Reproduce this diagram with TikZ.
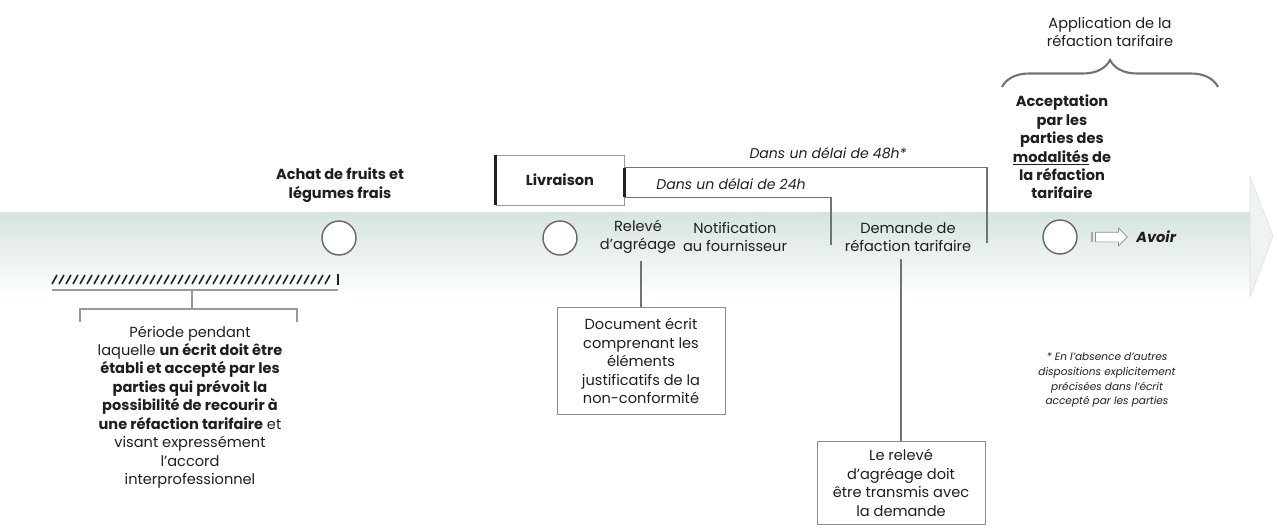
\documentclass[tikz,border=0pt]{standalone}
\usepackage{fontspec}
\setmainfont{Poppins}
\usetikzlibrary{positioning}
\usetikzlibrary{decorations.pathreplacing,shapes.arrows}
\definecolor{bandgreen}{RGB}{214,228,221}
\colorlet{ink}{black!88}
\colorlet{linegray}{black!55}
\newcommand\txtsize{\fontsize{8.3}{10.5}\selectfont}
\tikzset{
  event circle/.style={circle,draw=black!60,fill=white,thick,minimum size=6.8mm,inner sep=0},
  step label/.style={align=center,text=ink,font=\txtsize,inner sep=0},
  step bold/.style={step label,font=\txtsize\bfseries},
  event box/.style={draw=black!40,fill=white,text=ink,font=\txtsize\bfseries,minimum width=25.6mm,minimum height=10mm,inner sep=0},
  info box/.style={draw=black!45,fill=white,align=center,text=ink,font=\txtsize,minimum width=33.6mm,inner sep=0},
  delay label/.style={text=ink,font=\fontsize{8}{10}\selectfont\itshape,inner sep=0},
  note/.style={align=center,text=ink,font=\fontsize{6}{8.5}\selectfont\itshape,inner sep=0},
  connect/.style={draw=linegray,line width=0.6pt},
  bracket/.style={draw=black!40,line width=1.4pt},
  hatch/.style={draw=ink,line width=0.9pt},
}

\begin{document}
\begin{tikzpicture}[x=0.2mm,y=-0.2mm]
    \useasboundingbox (0,0) rectangle (1277,527);

    % ------- time line -------
    \shade[top color=bandgreen, middle color=bandgreen!80, bottom color=white] (0,212) rectangle (1250,296);
    \filldraw[fill=bandgreen!40, draw=black!12] (1250,177) -- (1273,236) -- (1250,297) -- cycle;

    % ------- events -------
    \node[event circle] (achat) at (339,238) {};
    \node[event circle] (releve) at (560,238) {};
    \node[event circle] (accept) at (1060,237) {};

    \node[step bold] (achat-label) at (340,185) {Achat de fruits et\\légumes frais};

    \node[event box] (livraison) at (560,180) {Livraison};
    \draw[line width=1.8pt, ink] (livraison.north west) -- (livraison.south west);
    \draw[line width=1.8pt, ink] ([yshift=-7.4pt]livraison.north east) -- ([yshift=4.6pt]livraison.south east);

    \node[step label] (releve-label) at (638,237) {Relevé\\d'agréage};
    \node[step label] (notif) at (735,237) {Notification\\au fournisseur};
    \node[step label] (demande) at (908,237) {Demande de\\réfaction tarifaire};

    % ------- delays -------
    \coordinate (end48) at (987,243);
    \coordinate (end24) at (831,245);
    \draw[connect] ([yshift=-7.4pt]livraison.north east) -| (end48);
    \draw[connect] ([yshift=4.6pt]livraison.south east) -| (end24);
    \node[delay label] (delay48) at (828,153) {Dans un délai de 48h*};
    \node[delay label] (delay24) at (731,184) {Dans un délai de 24h};

    % ------- boxes below -------
    \node[info box, minimum height=21.4mm] (doc) at (641,361) {Document écrit\\comprenant les\\éléments\\justificatifs de la\\non-conformité};
    \draw[connect, shorten >=4pt] (doc.north) -- (doc.north |- releve-label.south);

    \node[info box, minimum height=16.6mm] (transmis) at (901,483) {Le relevé\\d'agréage doit\\être transmis avec\\la demande};
    \draw[connect, shorten >=4pt] (transmis.north) -- (transmis.north |- demande.south);

    % ------- period before purchase -------
    \foreach \x in {52,59,...,330} {
        \draw[hatch] (\x,284) -- (\x+5,275);
    }
    \draw[line width=1.2pt, ink] (338,274) -- (338,285);
    \draw[bracket] (52,290) -- (338,290);
    \draw[bracket] (192,290) -- (192,309);
    \draw[bracket] (80,322) -- (80,309) -- (297,309) -- (297,322);

    \node[step label] (periode) at (190,407) {Période pendant\\laquelle \textbf{un écrit doit être}\\\textbf{établi et accepté par les}\\\textbf{parties qui prévoit la}\\\textbf{possibilité de recourir à}\\\textbf{une réfaction tarifaire} et\\visant expressément\\l'accord\\interprofessionnel};

    % ------- acceptation and avoir -------
    \node[step bold] (accept-label) at (1062,147) {Acceptation\\par les\\parties des\\\underline{modalités} de\\la réfaction\\tarifaire};
    \node[step label] (application) at (1110,32) {Application de la\\réfaction tarifaire};
    \draw[draw=black!55, line width=1.2pt, decorate, decoration={brace,amplitude=5.4mm}] (1002,87) -- (1218,87);

    \node[single arrow, draw=black!45, fill=white, minimum height=6.4mm, single arrow head extend=0.8mm, inner sep=0.9mm] (avoir-arrow) at (1109,237) {};
    \draw[line width=1.2pt, black!35] ([xshift=-2pt]avoir-arrow.tail |- avoir-arrow.before tail) -- ([xshift=-2pt]avoir-arrow.tail |- avoir-arrow.after tail);
    \node[text=ink, font=\txtsize\bfseries\itshape, inner sep=0, right=1.6mm of avoir-arrow] (avoir) {Avoir};

    \node[note] (footnote) at (1107,380) {* En l'absence d'autres\\dispositions explicitement\\précisées dans l'écrit\\accepté par les parties};
\end{tikzpicture}
\end{document}
